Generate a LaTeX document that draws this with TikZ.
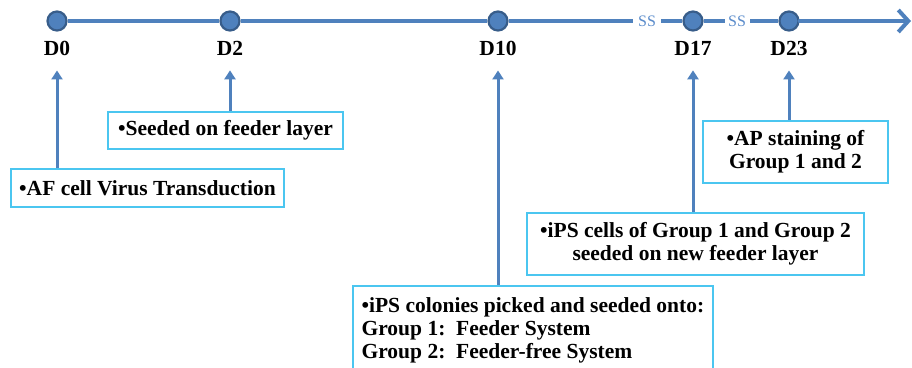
\documentclass[tikz,border=0pt]{standalone}
\usepackage{fontspec}
\setmainfont{Liberation Serif}
\usetikzlibrary{arrows.meta}
\definecolor{lineblue}{HTML}{4F81BD}
\definecolor{dotrim}{HTML}{385D8A}
\definecolor{boxcyan}{HTML}{4BC6F0}
\definecolor{ssblue}{HTML}{5B8CCB}

\begin{document}
\begin{tikzpicture}[x=1pt, y=-1pt,
  dot/.style={circle, fill=lineblue, draw=dotrim, line width=2.2pt, minimum size=19pt, inner sep=0pt},
  day/.style={font=\bfseries\fontsize{21.5}{24}\selectfont, inner sep=2pt},
  box/.style={draw=boxcyan, line width=1.8pt, font=\bfseries\fontsize{21.5}{23}\selectfont, inner sep=0pt, align=center},
  up/.style={draw=lineblue, line width=3pt, -{Triangle[length=9pt,width=11pt]}, shorten >=13pt},
  timeline/.style={draw=lineblue, line width=4pt},
  ss/.style={text=ssblue, font=\fontsize{16}{16}\selectfont, inner sep=0pt}]
\useasboundingbox (0,0) rectangle (912,367);

% time line
\foreach \n/\x in {d0/57, d2/230, d10/498, d17/693, d23/789}
  \node[dot] (\n) at (\x,21) {};
\node[ss] (ss1) at (647,21) {SS};
\node[ss] (ss2) at (737,21) {SS};
\coordinate (end) at (911,21);
\draw[timeline] (d0) -- (d2) (d2) -- (d10) (d10) -- ([xshift=-5pt]ss1.west)
  ([xshift=5pt]ss1.east) -- (d17) (d17) -- ([xshift=-3pt]ss2.west)
  ([xshift=4pt]ss2.east) -- (d23);
\draw[timeline, -{Straight Barb[length=10pt,width=22pt]}, line cap=round] (d23) -- (end);

\foreach \n/\t in {d0/D0, d2/D2, d10/D10, d17/D17, d23/D23}
  \node[day] (\n lab) at ([yshift=-27pt]\n) {\t};

% boxes
\node[box, minimum width=273pt, minimum height=38pt] (af) at (147.5,188) {\textbullet AF cell Virus Transduction};
\node[box, minimum width=235pt, minimum height=37pt] (seed) at (225.5,130.5) {\textbullet Seeded on feeder layer};
\node[box, anchor=north west, inner ysep=12pt, minimum width=360pt, align=left] (pick) at (352,285)
  {\textbullet iPS colonies picked and seeded onto:\\
   Group 1:\ \ Feeder System\\
   Group 2:\ \ Feeder-free System};
\node[box, minimum width=337pt, minimum height=62pt] (cells) at (695.5,244)
  {\textbullet iPS cells of Group 1 and Group 2\\seeded on new feeder layer};
\node[box, minimum width=185pt, minimum height=62pt] (ap) at (795.5,152)
  {\textbullet AP staining of\\Group 1 and 2};

% arrows
\draw[up] (af.north -| d0lab) -- (d0lab);
\draw[up] (seed.north -| d2lab) -- (d2lab);
\draw[up] (pick.north -| d10lab) -- (d10lab);
\draw[up] (cells.north -| d17lab) -- (d17lab);
\draw[up] (ap.north -| d23lab) -- (d23lab);
\end{tikzpicture}
\end{document}
